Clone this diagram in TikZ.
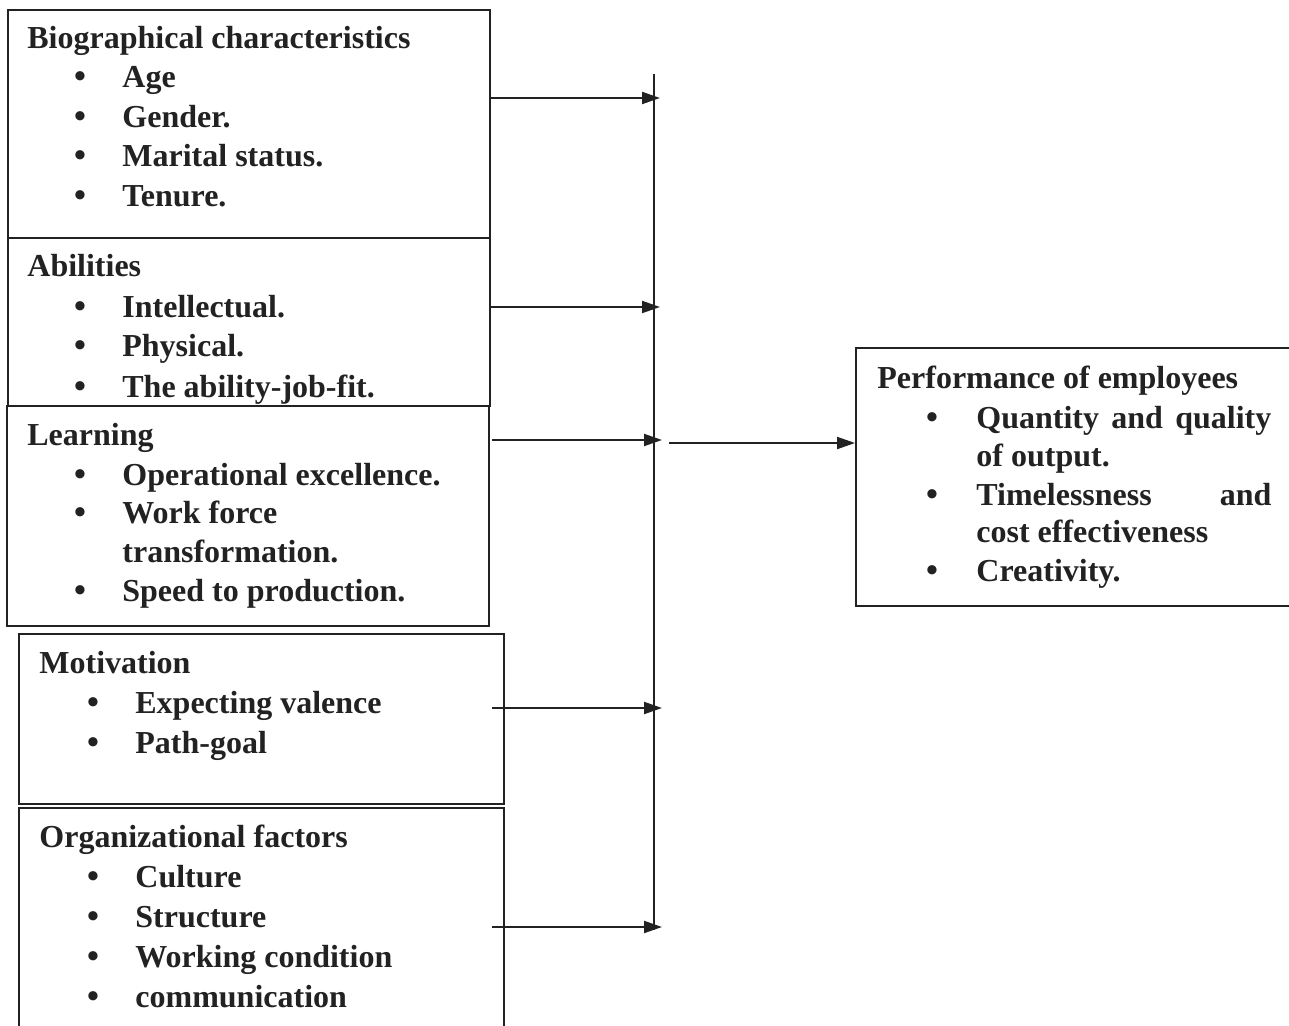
\documentclass[tikz,border=0pt]{standalone}
\usepackage{fontspec}
\setmainfont{Liberation Serif}
\usetikzlibrary{arrows.meta}
\definecolor{ink}{HTML}{222222}
\newcommand\bitem[4]{%
  \node[bul] (#1b) at (#2,#4) {•};
  \node[txt] (#1) at (#3,#4)}
\begin{document}
\begin{tikzpicture}[x=0.5pt,y=-0.5pt,
  box/.style={draw=ink, line width=1pt, anchor=north west, inner sep=0pt},
  txt/.style={anchor=base west, inner sep=0pt, text=ink, font=\bfseries\fontsize{16}{19}\selectfont},
  bul/.style={anchor=base, inner sep=0pt, text=ink, font=\bfseries\fontsize{17}{19}\selectfont},
  conn/.style={draw=ink, line width=1pt},
  arr/.style={conn, -{Triangle[length=9pt,width=6pt]}}]
\clip (0,0) rectangle (1289,1026);
\fill[white] (0,0) rectangle (1289,1026);

% boxes
\node[box, minimum width=241pt, minimum height=114pt] (bio) at (7,9) {};
\node[box, minimum width=241pt, minimum height=84pt] (abil) at (7,237) {};
\node[box, minimum width=241pt, minimum height=110pt] (learn) at (6,405) {};
\node[box, minimum width=242.5pt, minimum height=85pt] (motiv) at (18,633) {};
\node[box, minimum width=242.5pt, minimum height=120pt] (org) at (18,807) {};
\node[box, minimum width=225pt, minimum height=129pt] (perf) at (855,347) {};

% Biographical
\node[txt] (biot) at (27,49) {Biographical characteristics};
\bitem{bio1}{80}{122}{88} {Age};
\bitem{bio2}{80}{122}{128} {Gender.};
\bitem{bio3}{80}{122}{167} {Marital status.};
\bitem{bio4}{80}{122}{207} {Tenure.};

% Abilities
\node[txt] (abilt) at (27,277) {Abilities};
\bitem{ab1}{80}{122}{318} {Intellectual.};
\bitem{ab2}{80}{122}{357} {Physical.};
\bitem{ab3}{80}{122}{397} {The ability-job-fit.};

% Learning
\node[txt] (learnt) at (27,445) {Learning};
\bitem{le1}{80}{122}{485} {Operational excellence.};
\bitem{le2}{80}{122}{523} {Work force};
\node[txt] (le2b) at (122,562) {transformation.};
\bitem{le3}{80}{122}{601} {Speed to production.};

% Motivation
\node[txt] (motivt) at (39,673) {Motivation};
\bitem{mo1}{93}{135}{713} {Expecting valence};
\bitem{mo2}{93}{135}{753} {Path-goal};

% Organizational
\node[txt] (orgt) at (39,847) {Organizational factors};
\bitem{or1}{93}{135}{887} {Culture};
\bitem{or2}{93}{135}{927} {Structure};
\bitem{or3}{93}{135}{967} {Working condition};
\bitem{or4}{93}{135}{1007} {communication};

% Performance
\node[txt] (perft) at (877,388) {Performance of employees};
\bitem{pe1}{932}{976}{428} {\makebox[147.5pt][s]{Quantity and quality}};
\node[txt] (pe1b) at (976,466) {of output.};
\bitem{pe2}{932}{976}{505} {\makebox[147.5pt][s]{Timelessness and}};
\node[txt] (pe2b) at (976,542) {cost effectiveness};
\bitem{pe3}{932}{976}{581} {Creativity.};

% connectors
\coordinate (vtop) at (654,74);
\coordinate (vbot) at (654,930);
\draw[conn, line width=1.2pt] (vtop) -- (vbot);

\coordinate (a1) at (660,98);
\coordinate (a2) at (660,307);
\coordinate (a3) at (662,440);
\coordinate (a4) at (662,708);
\coordinate (a5) at (662,927);
\coordinate (s3) at (492,440);
\coordinate (s4) at (492,708);
\coordinate (s5) at (492,927);
\draw[arr] (bio.east |- a1) -- (a1);
\draw[arr] (abil.east |- a2) -- (a2);
\draw[arr] (s3) -- (a3);
\draw[arr] (s4) -- (a4);
\draw[arr] (s5) -- (a5);

\coordinate (o1) at (669,443);
\draw[arr] (o1) -- (perf.west |- o1);
\end{tikzpicture}
\end{document}
